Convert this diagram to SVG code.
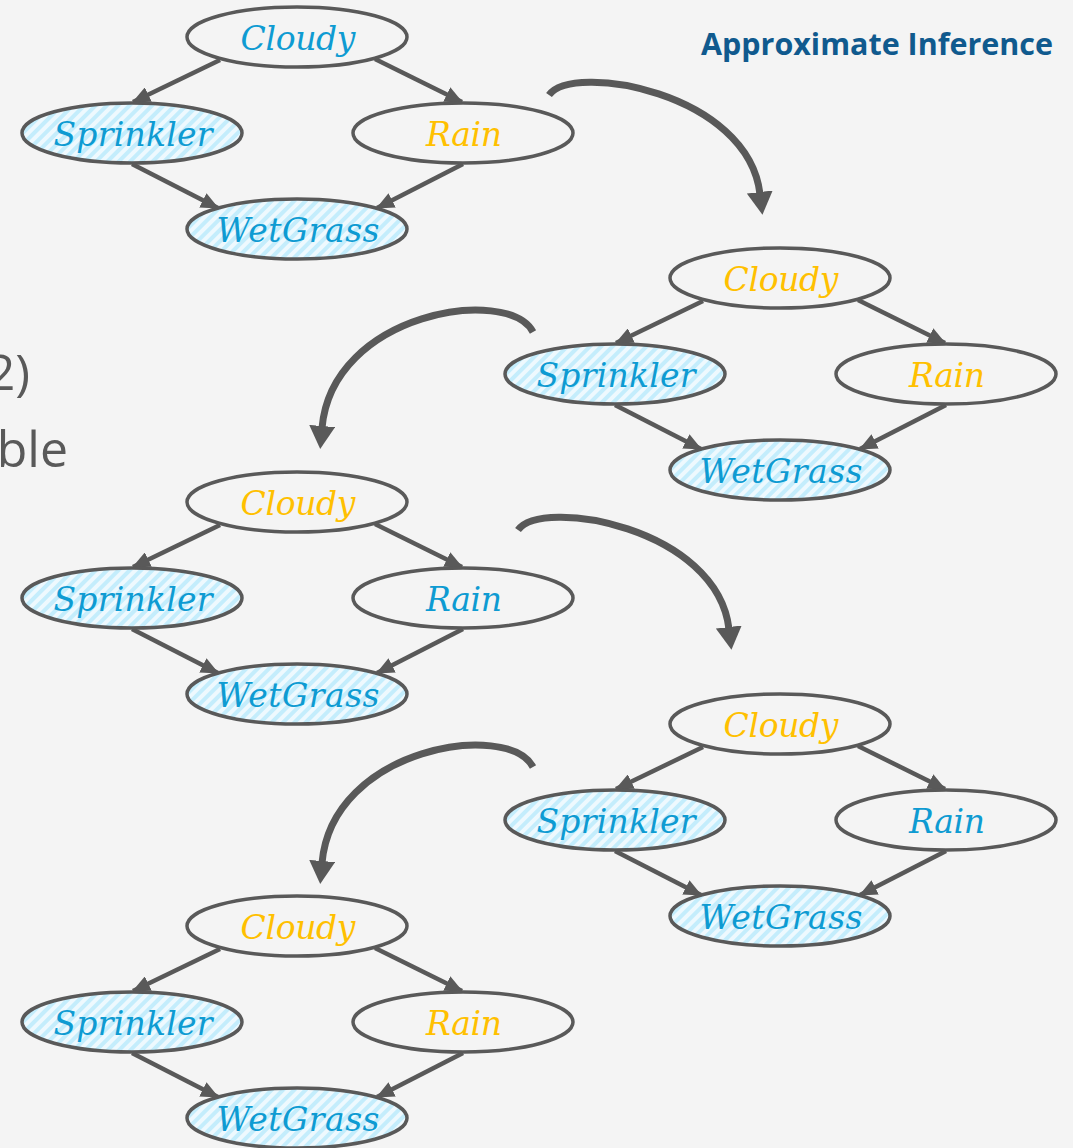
<svg xmlns="http://www.w3.org/2000/svg" width="1073" height="1148" viewBox="0 0 1073 1148">
  <style>
    .node ellipse { stroke: #595959; stroke-width: 3.5; fill: #f4f4f4; }
    .node.obs ellipse { fill: url(#hatch); }
    .node text { font-family: "DejaVu Serif", "Liberation Serif", serif; font-style: italic; font-size: 33px; text-anchor: middle; }
    .blue { fill: #0e9bd2; }
    .gold { fill: #ffc000; }
    .edge { stroke: #595959; stroke-width: 4.5; fill: none; marker-end: url(#head); }
    .step { stroke: #595959; stroke-width: 7; fill: none; marker-end: url(#bighead); }
    .side { font-family: "Open Sans", "Liberation Sans", sans-serif; font-size: 50px; fill: #595959; text-anchor: end; }
    .title { font-family: "Open Sans", "Liberation Sans", sans-serif; font-weight: bold; font-size: 30px; fill: #105a8e; }
  </style>
  <defs>
    <pattern id="hatch" patternUnits="userSpaceOnUse" width="8" height="8" patternTransform="rotate(45)">
      <rect width="8" height="8" fill="#eef9fe"/>
      <rect width="4" height="8" fill="#c4edfc"/>
    </pattern>
    <marker id="head" markerUnits="userSpaceOnUse" markerWidth="19" markerHeight="16" refX="17" refY="8" orient="auto">
      <path d="M0,0 L18,8 L0,16 z" fill="#595959"/>
    </marker>
    <marker id="bighead" markerUnits="userSpaceOnUse" markerWidth="24" markerHeight="26" refX="2" refY="13" orient="auto">
      <path d="M0,0 L23,13 L0,26 z" fill="#595959"/>
    </marker>
    <!-- one Bayesian network's arcs, with Cloudy at the origin -->
    <g id="edges">
      <line class="edge" x1="-77" y1="23" x2="-164" y2="65"/>
      <line class="edge" x1="78" y1="22" x2="165" y2="65"/>
      <line class="edge" x1="-165" y1="127" x2="-79" y2="171"/>
      <line class="edge" x1="166" y1="127" x2="80" y2="171"/>
    </g>
  </defs>

  <rect width="1073" height="1148" fill="#f4f4f4"/>

  <text class="title" x="701" y="55" textLength="352" lengthAdjust="spacingAndGlyphs">Approximate Inference</text>
  <text class="side" x="30" y="390">2)</text>
  <text class="side" x="68" y="467">ble</text>

  <!-- sampling steps -->
  <g id="steps">
    <path class="step" d="M549,95 C572,62 748,92 760,194"/>
    <path class="step" d="M533,332 C508,285 332,312 322,428"/>
    <path class="step" d="M518,530 C541,497 717,527 729,629"/>
    <path class="step" d="M533,767 C508,720 332,747 322,863"/>
  </g>

  <!-- network 1 -->
  <g id="net1" transform="translate(297,37)">
    <use href="#edges"/>
    <g id="net1-cloudy" class="node"><ellipse cx="0" cy="0" rx="110" ry="30"/><text class="blue" x="1" y="13" textLength="115" lengthAdjust="spacing">Cloudy</text></g>
    <g id="net1-sprinkler" class="node obs"><ellipse cx="-165" cy="96" rx="110" ry="30"/><text class="blue" x="-164" y="109" textLength="159" lengthAdjust="spacing">Sprinkler</text></g>
    <g id="net1-rain" class="node"><ellipse cx="166" cy="96" rx="110" ry="30"/><text class="gold" x="167" y="109" textLength="76" lengthAdjust="spacing">Rain</text></g>
    <g id="net1-wetgrass" class="node obs"><ellipse cx="0" cy="192" rx="110" ry="30"/><text class="blue" x="1" y="205" textLength="163" lengthAdjust="spacing">WetGrass</text></g>
  </g>

  <!-- network 2 -->
  <g id="net2" transform="translate(780,278)">
    <use href="#edges"/>
    <g id="net2-cloudy" class="node"><ellipse cx="0" cy="0" rx="110" ry="30"/><text class="gold" x="1" y="13" textLength="115" lengthAdjust="spacing">Cloudy</text></g>
    <g id="net2-sprinkler" class="node obs"><ellipse cx="-165" cy="96" rx="110" ry="30"/><text class="blue" x="-164" y="109" textLength="159" lengthAdjust="spacing">Sprinkler</text></g>
    <g id="net2-rain" class="node"><ellipse cx="166" cy="96" rx="110" ry="30"/><text class="gold" x="167" y="109" textLength="76" lengthAdjust="spacing">Rain</text></g>
    <g id="net2-wetgrass" class="node obs"><ellipse cx="0" cy="192" rx="110" ry="30"/><text class="blue" x="1" y="205" textLength="163" lengthAdjust="spacing">WetGrass</text></g>
  </g>

  <!-- network 3 -->
  <g id="net3" transform="translate(297,502)">
    <use href="#edges"/>
    <g id="net3-cloudy" class="node"><ellipse cx="0" cy="0" rx="110" ry="30"/><text class="gold" x="1" y="13" textLength="115" lengthAdjust="spacing">Cloudy</text></g>
    <g id="net3-sprinkler" class="node obs"><ellipse cx="-165" cy="96" rx="110" ry="30"/><text class="blue" x="-164" y="109" textLength="159" lengthAdjust="spacing">Sprinkler</text></g>
    <g id="net3-rain" class="node"><ellipse cx="166" cy="96" rx="110" ry="30"/><text class="blue" x="167" y="109" textLength="76" lengthAdjust="spacing">Rain</text></g>
    <g id="net3-wetgrass" class="node obs"><ellipse cx="0" cy="192" rx="110" ry="30"/><text class="blue" x="1" y="205" textLength="163" lengthAdjust="spacing">WetGrass</text></g>
  </g>

  <!-- network 4 -->
  <g id="net4" transform="translate(780,724)">
    <use href="#edges"/>
    <g id="net4-cloudy" class="node"><ellipse cx="0" cy="0" rx="110" ry="30"/><text class="gold" x="1" y="13" textLength="115" lengthAdjust="spacing">Cloudy</text></g>
    <g id="net4-sprinkler" class="node obs"><ellipse cx="-165" cy="96" rx="110" ry="30"/><text class="blue" x="-164" y="109" textLength="159" lengthAdjust="spacing">Sprinkler</text></g>
    <g id="net4-rain" class="node"><ellipse cx="166" cy="96" rx="110" ry="30"/><text class="blue" x="167" y="109" textLength="76" lengthAdjust="spacing">Rain</text></g>
    <g id="net4-wetgrass" class="node obs"><ellipse cx="0" cy="192" rx="110" ry="30"/><text class="blue" x="1" y="205" textLength="163" lengthAdjust="spacing">WetGrass</text></g>
  </g>

  <!-- network 5 -->
  <g id="net5" transform="translate(297,926)">
    <use href="#edges"/>
    <g id="net5-cloudy" class="node"><ellipse cx="0" cy="0" rx="110" ry="30"/><text class="gold" x="1" y="13" textLength="115" lengthAdjust="spacing">Cloudy</text></g>
    <g id="net5-sprinkler" class="node obs"><ellipse cx="-165" cy="96" rx="110" ry="30"/><text class="blue" x="-164" y="109" textLength="159" lengthAdjust="spacing">Sprinkler</text></g>
    <g id="net5-rain" class="node"><ellipse cx="166" cy="96" rx="110" ry="30"/><text class="gold" x="167" y="109" textLength="76" lengthAdjust="spacing">Rain</text></g>
    <g id="net5-wetgrass" class="node obs"><ellipse cx="0" cy="192" rx="110" ry="30"/><text class="blue" x="1" y="205" textLength="163" lengthAdjust="spacing">WetGrass</text></g>
  </g>
</svg>
